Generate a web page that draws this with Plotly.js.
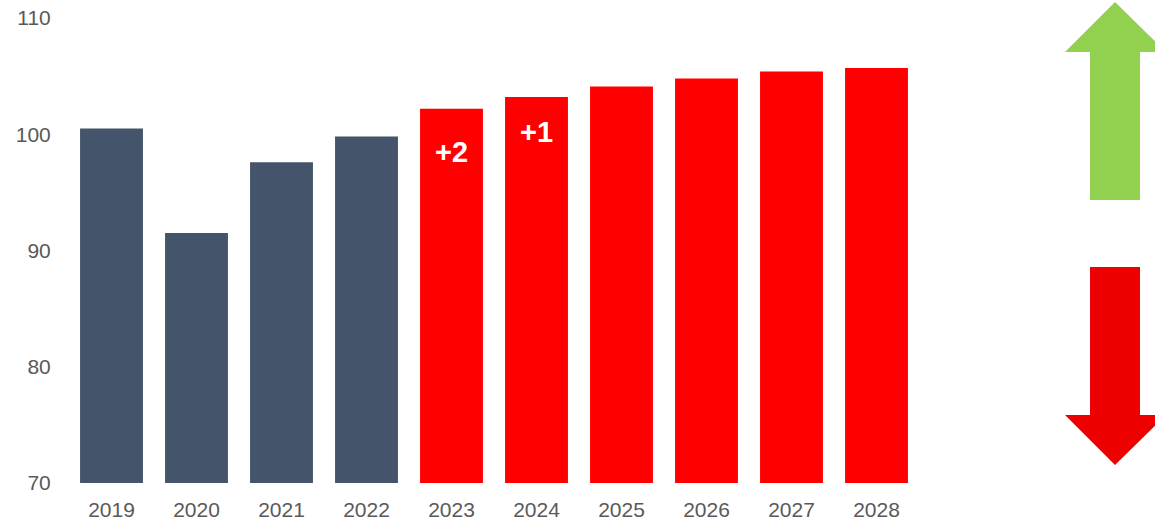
<!DOCTYPE html>
<html>
<head>
<meta charset="utf-8">
<script src="https://cdn.plot.ly/plotly-3.0.1.min.js"></script>
<style>html,body{margin:0;padding:0;background:#fff;}#chart{width:1155px;height:519px;}</style>
</head>
<body>
<div id="chart"></div>
<script>
const years = ["2019","2020","2021","2022","2023","2024","2025","2026","2027","2028"];
const values = [100.5, 91.5, 97.6, 99.8, 102.2, 103.2, 104.1, 104.8, 105.4, 105.7];
const barColors = ["#44546A","#44546A","#44546A","#44546A","#FF0000","#FF0000","#FF0000","#FF0000","#FF0000","#FF0000"];
const labelYears = ["2023","2024"];
const labelTexts = ["+2","+1"];
const labelY = [98.5, 100.2];

const W = 1155, H = 519;
const M = {l: 69, r: 236, t: 18, b: 36};
const pw = W - M.l - M.r, ph = H - M.t - M.b;
function px(x){ return ((x - M.l) / pw).toFixed(4); }
function py(y){ return ((H - M.b - y) / ph).toFixed(4); }
function path(pts){ return "M" + pts.map(p => px(p[0]) + "," + py(p[1])).join(" L") + " Z"; }

const upArrow = path([[1115,2],[1166,52],[1140,52],[1140,200],[1090,200],[1090,52],[1065,52]]);
const downArrow = path([[1090,267],[1140,267],[1140,415],[1166,415],[1115,465],[1065,415],[1090,415]]);

const trace = {
  type: "bar",
  x: years,
  y: values,
  marker: {color: barColors, line: {width: 0}},
  hoverinfo: "skip"
};

const layout = {
  width: W, height: H,
  margin: M,
  paper_bgcolor: "#fff", plot_bgcolor: "#fff",
  showlegend: false,
  bargap: 0.26,
  font: {family: "Liberation Sans, Arial, sans-serif", size: 21, color: "#595959"},
  xaxis: {type: "category", categoryorder: "array", categoryarray: years, range: [-0.5, 9.5], autorange: false, showgrid: false, zeroline: false, showline: false, ticks: "outside", ticklen: 8, tickcolor: "rgba(0,0,0,0)", tickfont: {size: 21, color: "#595959"}},
  yaxis: {range: [70, 110], autorange: false, tickvals: [70, 80, 90, 100, 110], showgrid: false, zeroline: false, showline: false, ticks: "outside", ticklen: 13, tickcolor: "rgba(0,0,0,0)", tickfont: {size: 21, color: "#595959"}},
  annotations: labelYears.map((yr, i) => ({
    x: years.indexOf(yr), y: labelY[i], xref: "x", yref: "y", text: "<b>" + labelTexts[i] + "</b>", showarrow: false,
    font: {family: "Liberation Sans, Arial, sans-serif", size: 29, color: "#ffffff"}
  })),
  shapes: [
    {type: "path", xref: "paper", yref: "paper", path: upArrow, fillcolor: "#92D050", line: {width: 0}},
    {type: "path", xref: "paper", yref: "paper", path: downArrow, fillcolor: "#EE0000", line: {width: 0}}
  ]
};

Plotly.newPlot("chart", [trace], layout, {displayModeBar: false, staticPlot: true});
</script>
</body>
</html>
